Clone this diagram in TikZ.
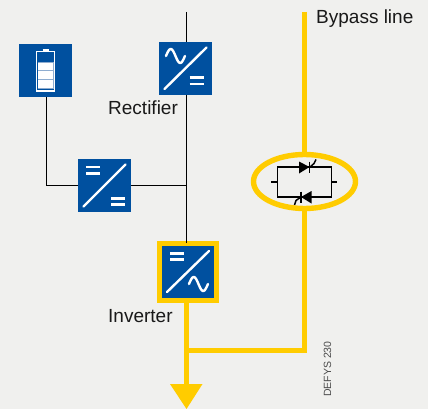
\documentclass[tikz,border=0pt]{standalone}
\usepackage{fontspec}
\setmainfont{Liberation Sans}
\usetikzlibrary{shapes.geometric}
\definecolor{bgc}{HTML}{F0F0EE}
\definecolor{bluec}{HTML}{00509F}
\definecolor{yelc}{HTML}{FFCC00}
\definecolor{sepc}{HTML}{8FADD0}
\tikzset{
  blk/.style={fill=bluec,draw=none,minimum size=53pt,inner sep=0pt,outer sep=0pt},
  invblk/.style={fill=bluec,draw=yelc,line width=5pt,minimum size=57pt,inner sep=0pt,outer sep=0pt},
  wire/.style={draw=black,line width=1.4pt},
  power/.style={draw=yelc,line width=5.2pt},
  glyph/.style={draw=white,line width=2.4pt},
  scrline/.style={draw=black,line width=1.5pt},
  lab/.style={font=\fontsize{19}{21}\selectfont,text=black!90,inner sep=0pt,anchor=base west},
}
\newcommand{\sinewave}[2]{\draw[glyph,line cap=round,line join=round] plot[domain=0:360,samples=40,smooth] ({#1+\x/19},{#2-7*sin(\x)});}
\newcommand{\eqsign}[3]{\draw[glyph,line width=2.6pt] (#1,#2) -- ++(14,0) (#1,#3) -- ++(14,0);}
\begin{document}
\begin{tikzpicture}[x=1pt,y=-1pt]
\path[use as bounding box,fill=bgc] (0,0) rectangle (428,409);

\coordinate (maintop) at (186.5,12);
\coordinate (bypasstop) at (304.5,12);
\coordinate (corner) at (304.5,350.5);
\coordinate (arrowtop) at (186.5,384);
\coordinate (arrowL) at (170,384);
\coordinate (arrowR) at (202.5,384);
\coordinate (arrowtip) at (186.5,409);
\coordinate (battdown) at (46.5,97);

% nodes
\node[blk] (batt) at (45.5,70.5) {};
\node[blk] (rect) at (185.5,68.5) {};
\node[blk] (dcdc) at (104.5,185.5) {};
\node[invblk] (inv) at (188,271.5) {};
\node[ellipse,draw=yelc,line width=5.4pt,minimum width=102pt,minimum height=54pt,inner sep=0pt,outer sep=0pt] (scr) at (304.5,181.5) {};

% connectors
\draw[wire] (maintop) -- (maintop |- rect.north);
\draw[wire] (maintop |- rect.south) -- (maintop |- inv.north);
\draw[wire] (battdown) |- (dcdc.west);
\draw[wire] (dcdc.east) -- (dcdc.east -| maintop);
\draw[power] (bypasstop) -- (scr.north);
\draw[power] (scr.south) -- (corner) -- (corner -| arrowtop);
\draw[power] (inv.south -| arrowtop) -- (arrowtop);
\fill[yelc] (arrowL) -- (arrowR) -- (arrowtip) -- cycle;

% rectifier glyph
\draw[glyph,line cap=round] (164.5,89) -- (206.5,47.5);
\sinewave{166}{56}
\eqsign{189.5}{77.5}{84}
% dc/dc glyph
\draw[glyph,line cap=round] (83.5,206.5) -- (125.5,164.5);
\eqsign{86}{167}{173.5}
\eqsign{111}{198.5}{204.5}
% inverter glyph
\draw[glyph,line cap=round] (167,292) -- (209,251);
\eqsign{170}{253.5}{259.5}
\sinewave{189}{284}
% battery glyph
\draw[draw=white,line width=1.1pt] (36.5,51.5) rectangle (54.5,91);
\draw[draw=white,line width=1.1pt] (42.5,50) -- (48.5,50);
\fill[sepc] (37.5,62) rectangle (53.5,89);
\fill[white] (37.8,62.7) rectangle (53.2,70);
\fill[white] (37.8,71.3) rectangle (53.2,79);
\fill[white] (37.8,80.3) rectangle (53.2,88);

% back-to-back thyristors
\draw[scrline] (277.5,167) rectangle (331.5,197);
\draw[scrline] (271,182) -- (277.5,182) (331.5,182) -- (337,182);
\fill[black] (299,161.5) -- (309.5,167) -- (299,173.5) -- cycle;
\draw[scrline] (309.5,161.5) -- (309.5,173);
\draw[scrline] (309.5,167.5) -- (314,163.5) -- (316,159.5);
\fill[black] (311.5,191) -- (301,197) -- (311.5,203.5) -- cycle;
\draw[scrline] (301,191.5) -- (301,203);
\draw[scrline] (301,197) -- (296,200.5) -- (294.5,205);

% labels
\node[lab] (lbyp) at (316,24) {Bypass line};
\node[lab] (lrec) at (108,115) {Rectifier};
\node[lab] (linv) at (108,322) {Inverter};
\node[font=\fontsize{10.5}{12}\selectfont,text=black!70,rotate=90,inner sep=0pt,anchor=base west] (ldef) at (331,397) {DEFYS 230};
\end{tikzpicture}
\end{document}
